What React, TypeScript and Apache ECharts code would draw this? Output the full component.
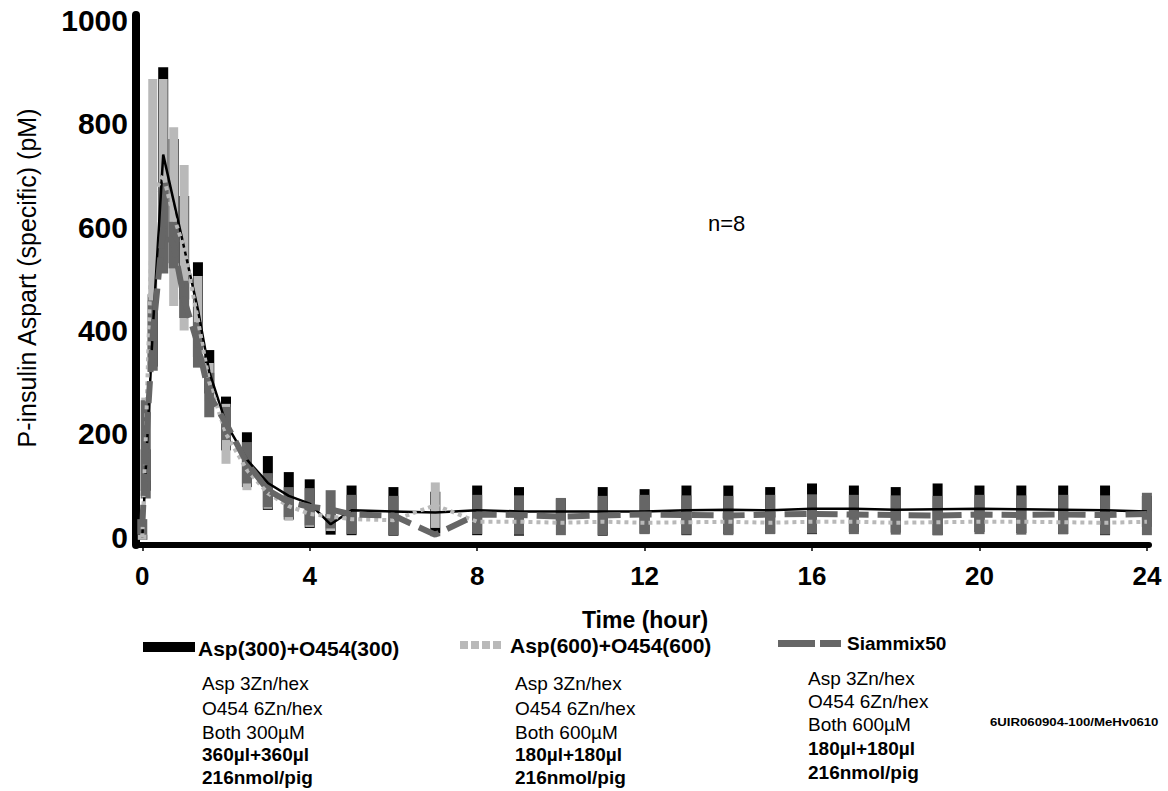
import React, { useEffect, useRef } from "react";
import * as echarts from "echarts";

// ---- data ----
const times = [0, 0.083, 0.25, 0.5, 0.75, 1, 1.33, 1.6, 2, 2.5, 3, 3.5, 4, 4.5, 5, 6, 7, 8, 9, 10, 11, 12, 13, 14, 15, 16, 17, 18, 19, 20, 21, 22, 23, 24];

const asp300Mean = [0, 130, 400, 740, 650, 560, 440, 320, 220, 150, 105, 80, 65, 25, 52, 50, 48, 52, 50, 50, 50, 50, 52, 53, 52, 55, 55, 53, 54, 55, 54, 53, 52, 50];
const asp300Sd = [5, 40, 70, 169, 120, 100, 92, 42, 52, 53, 52, 46, 47, 20, 48, 47, 40, 48, 47, 25, 47, 43, 48, 47, 45, 49, 45, 44, 50, 45, 46, 47, 48, 30];

const asp600Mean = [0, 190, 660, 700, 620, 560, 420, 300, 200, 130, 85, 60, 45, 40, 35, 33, 62, 30, 30, 28, 30, 28, 29, 30, 28, 30, 30, 28, 29, 30, 30, 29, 28, 30];
const asp600Sd = [5, 80, 226, 186, 173, 160, 85, 37, 58, 39, 30, 28, 25, 28, 22, 22, 44, 20, 20, 20, 20, 20, 20, 20, 20, 20, 20, 20, 20, 20, 20, 20, 20, 20];

const siamMean = [20, 170, 390, 598, 565, 460, 372, 275, 220, 144, 91, 68, 59, 54, 44, 42, 5, 44, 43, 40, 42, 44, 43, 42, 44, 45, 44, 43, 42, 44, 43, 44, 43, 45];
const siamSd = [15, 95, 68, 88, 45, 36, 44, 43, 32, 40, 33, 29, 36, 37, 38, 38, 3, 38, 38, 36, 38, 38, 38, 38, 38, 38, 38, 38, 38, 38, 38, 38, 38, 41];

const seriesNames = ["Asp(300)+O454(300)", "Asp(600)+O454(600)", "Siammix50"];
const yTicks = [0, 200, 400, 600, 800, 1000];
const xTicks = [0, 4, 8, 12, 16, 20, 24];

const block1 = ["Asp 3Zn/hex", "O454 6Zn/hex", "Both 300µM", "360µl+360µl", "216nmol/pig"];
const block2 = ["Asp 3Zn/hex", "O454 6Zn/hex", "Both 600µM", "180µl+180µl", "216nmol/pig"];
const block3 = ["Asp 3Zn/hex", "O454 6Zn/hex", "Both 600µM", "180µl+180µl", "216nmol/pig"];
const noteText = "n=8";
const refText = "6UIR060904-100/MeHv0610";
const xTitle = "Time (hour)";
const yTitle = "P-insulin Aspart (specific) (pM)";

const FONT = '"Liberation Sans", Arial, Helvetica, sans-serif';
const BLACK = "#000000";
const LIGHT = "#b9b9b9";
const DARK = "#666666";

function errData(mean: number[], sd: number[]) {
  return times.map((t, i) => [t, mean[i] - sd[i], mean[i] + sd[i]]);
}
function lineData(mean: number[]) {
  return times.map((t, i) => [t, mean[i]]);
}
function errSeries(name: string, mean: number[], sd: number[], color: string, w: number) {
  return {
    type: "custom",
    name: name + " sd",
    data: errData(mean, sd),
    encode: { x: 0, y: [1, 2] },
    clip: false,
    renderItem: (params: any, api: any) => {
      const x = api.value(0);
      const lo = api.value(1);
      const hi = api.value(2);
      const p1 = api.coord([x, hi]);
      const p2 = api.coord([x, lo]);
      return {
        type: "rect",
        shape: { x: p1[0] - w / 2, y: p1[1], width: w, height: p2[1] - p1[1] },
        style: { fill: color },
      };
    },
  };
}

function textEl(text: string, x: number, y: number, size: number, bold: boolean, extra: any = {}) {
  return {
    type: "text",
    x,
    y,
    ...extra,
    style: {
      text,
      fontSize: size,
      fontWeight: bold ? "bold" : "normal",
      fontFamily: FONT,
      fill: "#000",
      textVerticalAlign: "middle",
      verticalAlign: "middle",
      ...(extra.style || {}),
    },
  };
}

function blockEls(lines: string[], x: number, ys: number[]) {
  return lines.map((l, i) => textEl(l, x, ys[i], 19, i >= 3));
}

export default function App() {
  const ref = useRef<HTMLDivElement>(null);
  useEffect(() => {
    if (!ref.current) return;
    const chart = echarts.init(ref.current, undefined, { renderer: "svg" });
    const ysA = [683, 708, 732, 754, 777];
    const ysC = [678, 701, 724, 748, 772];
    const graphic: any[] = [
      {
        type: "text",
        x: 27,
        y: 278,
        rotation: Math.PI / 2,
        style: {
          text: yTitle,
          fontSize: 25,
          fontFamily: FONT,
          fill: "#000",
          align: "center",
          textAlign: "center",
          verticalAlign: "middle",
          textVerticalAlign: "middle",
        },
      },
      {
        type: "text",
        x: 645,
        y: 620,
        style: {
          text: xTitle,
          fontSize: 23,
          fontWeight: "bold",
          fontFamily: FONT,
          fill: "#000",
          align: "center",
          textAlign: "center",
          verticalAlign: "middle",
          textVerticalAlign: "middle",
        },
      },
      textEl(noteText, 708, 223, 22, false),
      { type: "rect", shape: { x: 143, y: 642, width: 52, height: 10 }, style: { fill: BLACK } },
      textEl(seriesNames[0], 198, 648, 21, true),
      ...[0, 1, 2, 3].map((k) => ({
        type: "rect",
        shape: { x: 460 + k * 11, y: 641, width: 8, height: 8 },
        style: { fill: LIGHT },
      })),
      textEl(seriesNames[1], 510, 645, 21, true),
      { type: "rect", shape: { x: 778, y: 640, width: 37, height: 7 }, style: { fill: DARK } },
      { type: "rect", shape: { x: 820, y: 640, width: 21, height: 7 }, style: { fill: DARK } },
      textEl(seriesNames[2], 847, 643, 19, true),
      ...blockEls(block1, 202, ysA),
      ...blockEls(block2, 515, ysA),
      ...blockEls(block3, 808, ysC),
      {
        type: "text",
        x: 990,
        y: 722,
        scaleX: 1.2,
        style: {
          text: refText,
          fontSize: 11,
          fontWeight: "bold",
          fontFamily: FONT,
          fill: "#000",
          verticalAlign: "middle",
          textVerticalAlign: "middle",
        },
      },
    ];

    chart.setOption({
      animation: false,
      backgroundColor: "#ffffff",
      grid: { left: 136, right: 19, top: 15, bottom: 246, containLabel: false },
      xAxis: {
        type: "value",
        min: -0.15,
        max: 24.05,
        axisLine: { show: true, onZero: false, lineStyle: { color: "#000", width: 6 } },
        axisTick: { show: true, customValues: xTicks, length: 6, lineStyle: { color: "#000", width: 1.5 } },
        axisLabel: {
          customValues: xTicks,
          formatter: (v: number) => String(v),
          margin: 18,
          fontSize: 26,
          fontWeight: "bold",
          fontFamily: FONT,
          color: "#000",
        },
        splitLine: { show: false },
      },
      yAxis: {
        type: "value",
        min: -15,
        max: 1010,
        axisLine: { show: true, onZero: false, lineStyle: { color: "#000", width: 8 } },
        axisTick: { show: false },
        axisLabel: {
          customValues: yTicks,
          formatter: (v: number) => String(v),
          margin: 8,
          fontSize: 30,
          fontWeight: "bold",
          fontFamily: FONT,
          color: "#000",
        },
        splitLine: { show: false },
      },
      graphic,
      series: [
        errSeries(seriesNames[0], asp300Mean, asp300Sd, BLACK, 10),
        {
          type: "line",
          name: seriesNames[0],
          data: lineData(asp300Mean),
          symbol: "none",
          lineStyle: { color: BLACK, width: 2.5 },
        },
        errSeries(seriesNames[1], asp600Mean, asp600Sd, LIGHT, 9),
        {
          type: "line",
          name: seriesNames[1],
          data: lineData(asp600Mean),
          symbol: "none",
          lineStyle: { color: LIGHT, width: 4, type: [4, 4] },
        },
        errSeries(seriesNames[2], siamMean, siamSd, DARK, 10),
        {
          type: "line",
          name: seriesNames[2],
          data: lineData(siamMean),
          symbol: "none",
          lineStyle: { color: DARK, width: 6, type: [22, 9] },
        },
      ],
    });
    return () => chart.dispose();
  }, []);
  return (
    <div
      ref={ref}
      style={{ position: "absolute", left: 0, top: 0, width: 1168, height: 791, background: "#fff" }}
    />
  );
}
